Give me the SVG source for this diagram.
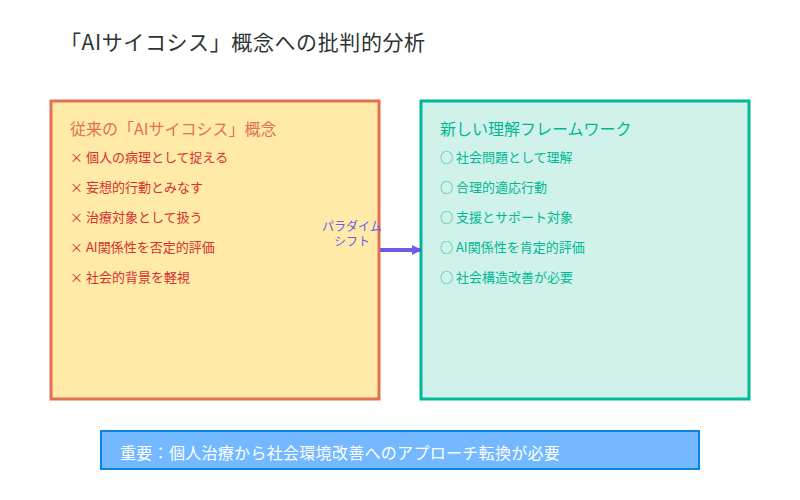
<svg xmlns="http://www.w3.org/2000/svg" width="800" height="500" viewBox="0 0 800 500">
<defs>
<style>
text{font-family:"Noto Sans CJK JP","Noto Sans",sans-serif}
.t{font-size:16px}
.i{font-size:13px}
.l{fill:#d63031}
.r{fill:#00b894}
</style>
<marker id="a" markerWidth="10" markerHeight="10" refX="9" refY="5" orient="auto" markerUnits="userSpaceOnUse"><path d="M0,0L10,5L0,10z" fill="#6c5ce7"/></marker>
</defs>
<rect width="800" height="500" fill="#fff"/>
<text x="60" y="50" font-size="21" letter-spacing="0.6" fill="#2d3436">「AIサイコシス」概念への批判的分析</text>
<g id="left">
<rect x="51" y="101" width="328" height="298" fill="#ffeaa7" stroke="#e17055" stroke-width="3"/>
<text x="70" y="135" class="t" fill="#e17055">従来の「AIサイコシス」概念</text>
<text x="70" y="162" class="i l">× 個人の病理として捉える</text>
<text x="70" y="192" class="i l">× 妄想的行動とみなす</text>
<text x="70" y="222" class="i l">× 治療対象として扱う</text>
<text x="70" y="252" class="i l">× AI関係性を否定的評価</text>
<text x="70" y="282" class="i l">× 社会的背景を軽視</text>
</g>
<g id="right">
<rect x="421" y="101" width="328" height="298" fill="#d1f2eb" stroke="#00b894" stroke-width="3"/>
<text x="440" y="135" class="t r">新しい理解フレームワーク</text>
<text x="440" y="162" class="i r">○ 社会問題として理解</text>
<text x="440" y="192" class="i r">○ 合理的適応行動</text>
<text x="440" y="222" class="i r">○ 支援とサポート対象</text>
<text x="440" y="252" class="i r">○ AI関係性を肯定的評価</text>
<text x="440" y="282" class="i r">○ 社会構造改善が必要</text>
</g>
<g id="connectors">
<line x1="380" y1="250" x2="421" y2="250" stroke="#6c5ce7" stroke-width="4" marker-end="url(#a)"/>
<text x="352" y="231" font-size="12" fill="#6c5ce7" text-anchor="middle">パラダイム</text>
<text x="352" y="246" font-size="12" fill="#6c5ce7" text-anchor="middle">シフト</text>
</g>
<g id="note">
<rect x="101" y="431" width="598" height="38" fill="#74b9ff" stroke="#0984e3" stroke-width="2"/>
<text x="120" y="459" font-size="16" letter-spacing="0.3" fill="#fff">重要：個人治療から社会環境改善へのアプローチ転換が必要</text>
</g>
</svg>
